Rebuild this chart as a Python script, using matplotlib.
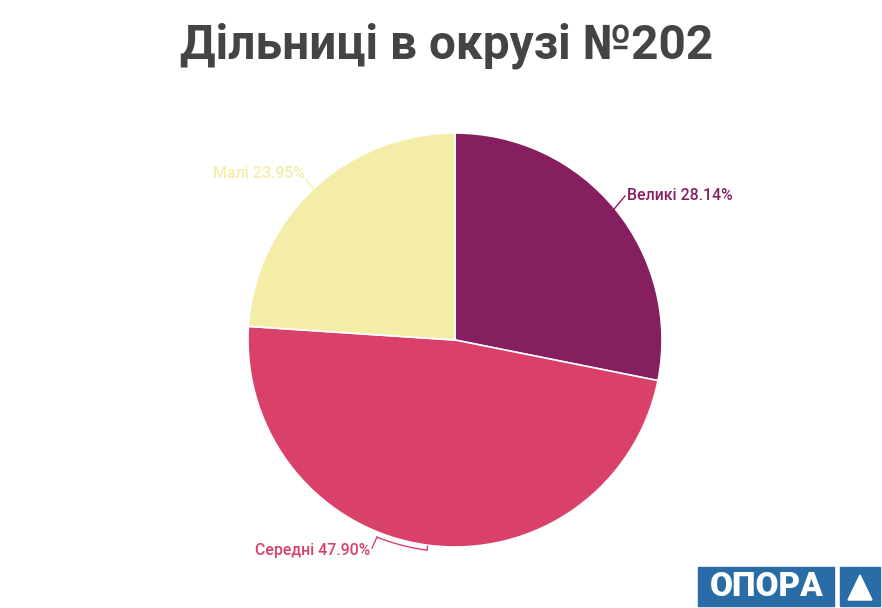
import matplotlib.pyplot as plt
from matplotlib.patches import Rectangle, Polygon
import numpy as np

# Data
categories = ['Великі', 'Середні', 'Малі']
shares = [28.14, 47.90, 23.95]
colors = ['#861f5f', '#d9416a', '#f4eda8']
title = 'Дільниці в окрузі №202'

plt.rcParams['font.family'] = ['Roboto', 'DejaVu Sans']

W, H = 882, 608
fig = plt.figure(figsize=(W / 100, H / 100), dpi=100)
ax = fig.add_axes([0, 0, 1, 1])
ax.set_xlim(0, W)
ax.set_ylim(0, H)
ax.set_aspect('equal')
ax.axis('off')

cx, cy, r = 455, H - 340, 207
wedges, _ = ax.pie(shares, colors=colors, startangle=90, counterclock=False,
                   center=(cx, cy), radius=r,
                   wedgeprops=dict(edgecolor='white', linewidth=1.2))
ax.set_xlim(0, W)
ax.set_ylim(0, H)


def edge_point(frac, rr=r):
    a = np.deg2rad(90 - 360 * frac)
    return cx + rr * np.cos(a), cy + rr * np.sin(a)


cum = np.cumsum([0] + shares) / 100.0
mids = (cum[:-1] + cum[1:]) / 2
lab_kw = dict(fontsize=11.4, fontweight='medium', va='center')

# Великі
x0, y0 = edge_point(mids[0], r - 3)
ax.plot([x0, 625], [y0, H - 196], color=colors[0], lw=1)
ax.text(627, H - 195, f'{categories[0]} {shares[0]:.2f}%', color=colors[0],
        ha='left', **lab_kw)

# Середні (bracket along the arc)
f_a = 0.5 + np.arcsin((455 - 377) / 212) / (2 * np.pi)
f_b = 0.5 + np.arcsin((455 - 427) / 212) / (2 * np.pi)
fr = np.linspace(f_b, f_a, 30)
pts = np.array([edge_point(f, r + 5) for f in fr])
ax.plot(pts[:, 0], pts[:, 1], color=colors[1], lw=1)
tx, ty = edge_point(f_b, r + 1)
ax.plot([tx, pts[0, 0]], [ty, pts[0, 1]], color=colors[1], lw=1)
ax.plot([pts[-1, 0], 372], [pts[-1, 1], H - 548], color=colors[1], lw=1)
ax.text(370, H - 551, f'{categories[1]} {shares[1]:.2f}%', color=colors[1],
        ha='right', **lab_kw)

# Малі
x2, y2 = edge_point(mids[2], r - 3)
ax.plot([x2, 306], [y2, H - 180], color=colors[2], lw=1)
ax.text(305, H - 174, f'{categories[2]} {shares[2]:.2f}%', color=colors[2],
        ha='right', **lab_kw)

# Title
fig.text(447, H - 46, title, ha='center', va='center', fontsize=34.4,
         fontweight='bold', color='#444444', transform=None)

# Logo
blue = '#2a6ca5'
ax.add_patch(Rectangle((698, H - 606), 136, 39, color=blue))
ax.add_patch(Rectangle((840, H - 606), 40, 39, color=blue))
ax.text(767, H - 587, 'ОПОРА', color='white', fontsize=24, fontweight='heavy',
        ha='center', va='center', family=['Roboto', 'DejaVu Sans'])
ax.add_patch(Polygon([[848, H - 600], [872, H - 600], [860, H - 575]],
                     color='white'))

fig.savefig('out.png', dpi=100)
